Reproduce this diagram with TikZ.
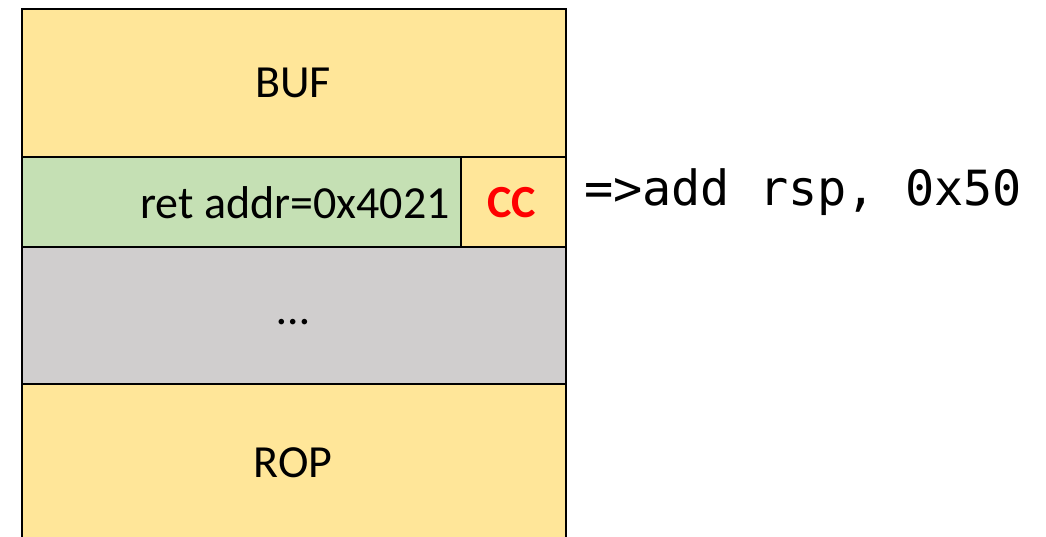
\documentclass[tikz,border=0pt]{standalone}
\usepackage{fontspec}
\setmainfont{Carlito}
\newfontfamily\codefont{DejaVu Sans Mono}
\definecolor{bufyellow}{HTML}{FFE699}
\definecolor{retgreen}{HTML}{C5E0B4}
\definecolor{fillgray}{HTML}{D0CECE}
\definecolor{ccred}{HTML}{FF0000}
\begin{document}
\begin{tikzpicture}[x=1pt,y=-1pt,
  cell/.style={draw=black,line width=2pt,inner sep=0pt,anchor=north west,rectangle},
  lbl/.style={font=\fontsize{46}{48}\selectfont,text=black,inner sep=0pt}]
\useasboundingbox (0,0) rectangle (1046,537);
\clip (0,0) rectangle (1046,537);
\node[cell,fill=bufyellow,minimum width=544pt,minimum height=148pt] (buf) at (21,8) {};
\node[cell,fill=retgreen,minimum width=439pt,minimum height=90pt] (ret) at (21,156) {};
\node[cell,fill=bufyellow,minimum width=105pt,minimum height=90pt] (cc) at (460,156) {};
\node[cell,fill=fillgray,minimum width=544pt,minimum height=137pt] (gap) at (21,246) {};
\node[cell,fill=bufyellow,minimum width=544pt,minimum height=170pt] (rop) at (21,383) {};
\node[lbl] (buft) at (293,83) {BUF};
\node[lbl,anchor=east] (rett) at (450,203) {ret addr=0x4021};
\node[lbl,font=\fontsize{46}{48}\selectfont\bfseries,text=ccred] (cct) at (512,203) {CC};
\node[lbl] (dots) at (293,322) {\dots};
\node[lbl] (ropt) at (293,463) {ROP};
\node[font=\codefont\fontsize{48.5}{50}\selectfont,anchor=west,inner sep=0pt] (code) at (584,192) {=>add rsp, 0x50};
\end{tikzpicture}
\end{document}
